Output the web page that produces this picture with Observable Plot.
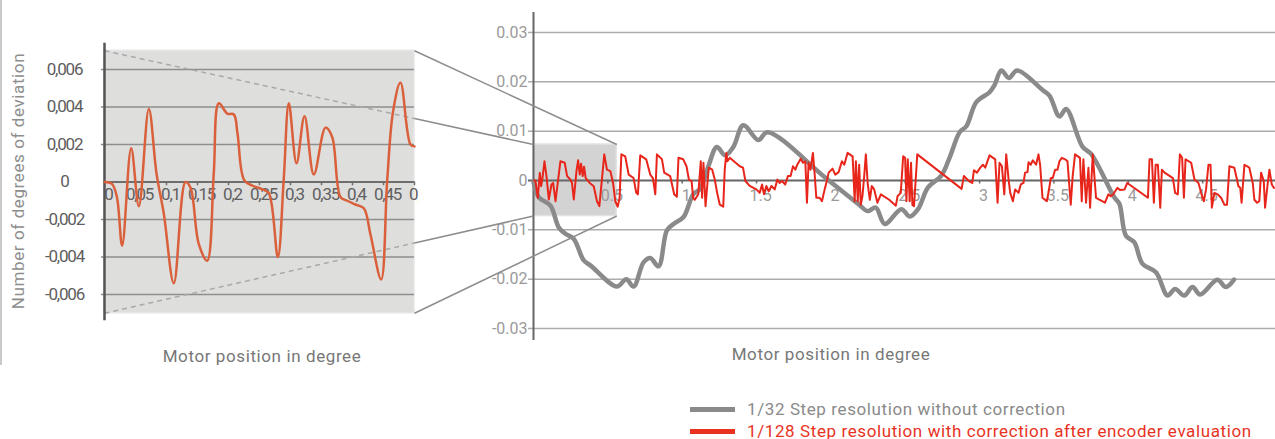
<!DOCTYPE html>
<html><head><meta charset="utf-8">
<script src="https://cdn.jsdelivr.net/npm/d3@7"></script>
<script src="https://cdn.jsdelivr.net/npm/@observablehq/plot@0.6"></script>
<style>
body{margin:0;background:#fff;}
#wrap{position:relative;width:1275px;height:439px;overflow:hidden;font-family:Roboto,sans-serif;background:#fff;}
#wrap svg{position:absolute;left:0;top:0;}
.t{position:absolute;white-space:nowrap;line-height:1;font-size:17px;letter-spacing:0.6px;}
.leg{position:absolute;height:5px;width:45px;left:690px;}
</style></head><body><div id="wrap"></div>
<script>
// ---------- data ----------
// left (zoomed) chart: smoothed deviation 0..0.5 degree
const zoomX = [0, 0.012, 0.020, 0.0285, 0.043, 0.0554, 0.0715, 0.0839, 0.0957, 0.1118, 0.1306, 0.1387, 0.152, 0.1656, 0.1763, 0.1844, 0.198, 0.2086, 0.2145, 0.2253, 0.239, 0.2554, 0.2651, 0.2796, 0.289, 0.2973, 0.3097, 0.3226, 0.3376, 0.3565, 0.3672, 0.3806, 0.3914, 0.4048, 0.4183, 0.429, 0.4462, 0.456, 0.4656, 0.4774, 0.4935, 0.5];
const zoomY = [0, -0.0001, -0.0008, -0.0034, 0.0018, -0.0013, 0.0039, 0.00045, -0.0017, -0.0054, 0.0, -0.0003, -0.0033, -0.0042, 0.0005, 0.0042, 0.00365, 0.0036, 0.0026, 0.0001, -0.0002, -0.0004, -0.0006, -0.004, 0.0001, 0.0042, 0.001, 0.0035, 0.0004, 0.0029, 0.0024, -0.0008, -0.001, -0.0012, -0.0014, -0.0028, -0.0052, 0.0001, 0.0038, 0.0053, 0.002, 0.0019];

// right chart: 1/32 step without correction
const grayX = [0, 0.036, 0.114, 0.17, 0.215, 0.27, 0.338, 0.383, 0.561, 0.624, 0.673, 0.74, 0.785, 0.841, 0.897, 0.942, 1.009, 1.076, 1.121, 1.177, 1.233, 1.289, 1.344, 1.411, 1.512, 1.573, 1.966, 2.19, 2.246, 2.302, 2.362, 2.474, 2.53, 2.586, 2.653, 2.743, 2.799, 2.866, 2.911, 2.978, 3.067, 3.1, 3.146, 3.197, 3.253, 3.425, 3.47, 3.537, 3.582, 3.693, 3.75, 3.906, 3.94, 3.984, 4.04, 4.096, 4.186, 4.264, 4.315, 4.376, 4.432, 4.483, 4.599, 4.656, 4.711];
const grayY = [-0.0003, -0.0034, -0.0051, -0.0095, -0.0108, -0.0118, -0.0162, -0.0172, -0.0215, -0.02, -0.0215, -0.0166, -0.0157, -0.0174, -0.0101, -0.0088, -0.0074, -0.0027, -0.0017, 0.003, 0.0068, 0.0051, 0.0068, 0.0112, 0.0082, 0.0098, 0.0005, -0.0049, -0.0062, -0.0055, -0.0088, -0.0058, -0.0073, -0.0058, -0.0014, 0.001, 0.0047, 0.0098, 0.011, 0.0159, 0.0179, 0.0193, 0.0223, 0.0208, 0.0223, 0.0183, 0.0172, 0.013, 0.0145, 0.0068, 0.0054, -0.0034, -0.0047, -0.0112, -0.0125, -0.0169, -0.0186, -0.0233, -0.022, -0.0233, -0.0216, -0.0231, -0.0201, -0.0216, -0.0201];

// right chart: 1/128 step with correction after encoder evaluation  [x, y]
const redSeries = [
[0.004,0],[0.013,0],[0.029,-0.0035],[0.0425,0.00155],[0.0515,-0.00115],[0.0604,0.0005],[0.0738,0.0039],[0.0872,0.0009],[0.103,-0.00385],[0.121,-0.0008],[0.132,-0.0005],[0.148,-0.0042],[0.163,-0.0005],[0.181,0.0039],[0.210,0.0036],[0.226,0.0009],[0.248,0.0002],[0.259,-0.0005],[0.271,-0.00385],[0.289,0.0019],[0.300,0.0041],[0.311,0.0012],[0.320,0.0034],[0.331,0.0009],[0.340,0.0028],[0.351,0.0005],[0.378,-0.0005],[0.405,-0.00115],[0.427,-0.0042],[0.443,-0.0052],[0.461,0.0005],[0.476,0.0053],[0.494,0.0022],[0.517,0.0019],[0.535,-0.0005],[0.550,-0.0042],[0.566,-0.0053],[0.579,-0.0035],[0.591,0.0053],[0.617,0.0049],[0.640,0.0012],[0.673,0.0005],[0.691,-0.0025],[0.702,-0.0028],[0.718,0.0051],[0.758,0.0043],[0.785,0.0012],[0.803,0.0005],[0.819,-0.0028],[0.830,0.0053],[0.864,0.0043],[0.879,0.0016],[0.919,0.0009],[0.946,-0.0028],[0.964,-0.0033],[0.975,0.0046],
[1.007,0.0043],[1.029,0.0029],[1.045,0.0002],[1.063,-0.0001],[1.074,-0.0035],[1.085,-0.0039],[1.108,-0.0028],[1.125,0.0039],[1.134,-0.0035],[1.143,0.0036],[1.157,-0.0052],[1.170,-0.0005],[1.179,0.0026],[1.202,0.0022],[1.219,0.0002],[1.237,-0.0028],[1.253,-0.0049],[1.276,-0.0053],[1.286,0.0022],[1.297,0.0056],[1.304,0.0039],[1.320,0.0046],[1.387,0.0029],[1.409,0.0026],[1.425,-0.0001],[1.454,-0.0011],[1.499,-0.0018],[1.521,-0.0025],[1.537,-0.0008],[1.550,-0.0028],[1.566,-0.0011],[1.582,-0.0022],[1.600,-0.0011],[1.622,-0.0018],[1.640,0.0002],[1.655,-0.0005],[1.671,-0.0001],[1.693,-0.0008],[1.711,0.0009],[1.729,0.0009],[1.745,0.0029],[1.761,0.0022],[1.774,0.0032],[1.797,0.0044],[1.812,0.0036],[1.828,0.0039],[1.839,-0.0045],[1.850,0.0036],[1.863,0.0022],[1.879,0.0056],[1.890,0.0016],[1.902,-0.0035],[1.924,-0.0035],[1.940,-0.0042],[1.958,-0.0018],[1.975,0.0002],[1.985,0.0016],
[2.011,0.0024],[2.029,0.0012],[2.052,0.0017],[2.074,0.0039],[2.090,0.0032],[2.112,0.0056],[2.146,0.0049],[2.160,-0.0042],[2.168,0.0039],[2.181,-0.0042],[2.190,0.0032],[2.201,-0.0049],[2.212,-0.0032],[2.224,0.0009],[2.235,0.0053],[2.248,-0.0008],[2.262,-0.0039],[2.275,-0.0011],[2.291,-0.0018],[2.313,-0.0045],[2.336,-0.0028],[2.392,-0.0039],[2.437,-0.0051],[2.448,-0.0032],[2.470,-0.0025],[2.486,0.0049],[2.499,0.0046],[2.508,-0.0042],[2.517,0.0043],[2.530,-0.0042],[2.539,0.0036],[2.548,-0.0049],[2.559,-0.0052],[2.581,0.0053],[2.879,-0.0017],[2.894,0.0009],[2.928,-0.0001],[2.951,-0.0005],[2.962,0.0021],[2.982,0.0016],
[3.005,0.0026],[3.022,0.0032],[3.038,0.0026],[3.067,0.0051],[3.105,0.0043],[3.121,-0.0045],[3.134,0.0036],[3.150,0.0029],[3.166,-0.0028],[3.179,0.0053],[3.195,0.0002],[3.206,-0.0025],[3.224,-0.0042],[3.239,-0.0018],[3.262,-0.0025],[3.277,-0.0008],[3.295,-0.0005],[3.306,0.0016],[3.322,0.0017],[3.329,0.0037],[3.344,0.0032],[3.358,0.0041],[3.380,0.0032],[3.396,0.0053],[3.407,0.0032],[3.423,-0.0035],[3.452,-0.0042],[3.463,-0.0025],[3.479,0.0005],[3.492,0.0005],[3.508,0.0022],[3.524,0.0022],[3.537,0.0039],[3.553,0.0046],[3.575,0.0043],[3.591,0.0039],[3.613,-0.0049],[3.626,0.0009],[3.642,0.0053],[3.675,0.0046],[3.687,-0.0042],[3.698,0.0043],[3.716,-0.0045],[3.732,0.0026],[3.743,-0.0055],[3.761,0.0053],[3.783,-0.0035],[3.843,-0.0045],[3.866,-0.0028],[3.882,-0.0032],[3.899,-0.0028],[3.926,-0.0015],[3.944,-0.0019],[3.975,-0.0018],[3.993,-0.0005],
[4.132,-0.0035],[4.143,0.0043],[4.159,0.0043],[4.172,-0.0045],[4.184,0.0032],[4.199,0.0032],[4.215,-0.0055],[4.226,0.0022],[4.244,0.0016],[4.300,0.0005],[4.315,-0.0025],[4.333,-0.0028],[4.347,0.0053],[4.362,0.0046],[4.374,-0.0035],[4.385,0.0043],[4.423,0.0036],[4.445,0.0002],[4.472,-0.0005],[4.490,-0.0025],[4.508,-0.0042],[4.523,-0.0018],[4.539,0.0032],[4.553,0.0032],[4.562,-0.0055],[4.579,-0.0025],[4.602,-0.0028],[4.624,-0.0035],[4.646,-0.0049],[4.664,-0.0049],[4.680,0.0029],[4.713,0.0026],[4.731,0.0002],[4.740,-0.0011],[4.753,-0.0015],[4.762,-0.0045],[4.781,0.0032],[4.814,0.0026],[4.837,-0.0005],[4.848,-0.0039],[4.866,-0.0045],[4.881,-0.0042],[4.893,0.0016],[4.911,-0.0001],[4.920,-0.0055],[4.938,-0.0005],[4.949,0.0022],[4.965,-0.0008],[4.980,-0.0015]
];

// zoomed region marked on the right chart
const zoomRegionX = [0, 0.56];
const zoomRegionY = [-0.0072, 0.0073];

// ticks
const leftYTicks = [-0.006, -0.004, -0.002, 0, 0.002, 0.004, 0.006];
const leftYTickLabels = ["-0,006", "-0,004", "-0,002", "0", "0,002", "0,004", "0,006"];
const leftXTicks = [0, 0.05, 0.1, 0.15, 0.2, 0.25, 0.3, 0.35, 0.4, 0.45, 0.5];
const leftXTickLabels = ["0", "0,05", "0,1", "0,15", "0,2", "0,25", "0,3", "0,35", "0,4", "0,45", "0,5"];
const rightYTicks = [-0.03, -0.02, -0.01, 0, 0.01, 0.02, 0.03];
const rightYTickLabels = ["-0.03", "-0.02", "-0.01", "0", "0.01", "0.02", "0.03"];
const rightXTicks = [0.5, 1, 1.5, 2, 2.5, 3, 3.5, 4, 4.5];
const rightXTickLabels = ["0.5", "1", "1.5", "2", "2.5", "3", "3.5", "4", "4.5"];

const yTitle = "Number of degrees of deviation";
const xTitle = "Motor position in degree";
const legendLabels = ["1/32 Step resolution without correction", "1/128 Step resolution with correction after encoder evaluation"];

// ---------- build ----------
const zoomData = zoomX.map((x, i) => ({x, y: zoomY[i]}));
const grayData = grayX.map((x, i) => ({x, y: grayY[i]}));
const redData = redSeries.map(([x, y]) => ({x, y}));
const lyAxis = leftYTicks.map((v, i) => ({v, label: leftYTickLabels[i]}));
const lxAxis = leftXTicks.map((v, i) => ({v, label: leftXTickLabels[i]}));
const ryAxis = rightYTicks.map((v, i) => ({v, label: rightYTickLabels[i]}));
const rxAxis = rightXTicks.map((v, i) => ({v, label: rightXTickLabels[i]}));

const leftXOpts = {domain: [0, 0.5], range: [104, 414]};
const leftYOpts = {domain: [-0.007, 0.007], range: [312.75, 50.25]};
const rightXOpts = {domain: [0, 4.99], range: [533, 1275]};
const rightYOpts = {domain: [-0.03243, 0.03406], range: [340, 12]};

const xL = Plot.scale({x: leftXOpts}), yL = Plot.scale({y: leftYOpts});
const xR = Plot.scale({x: rightXOpts}), yR = Plot.scale({y: rightYOpts});

// connector geometry, from the scales
const Ltop = yL.apply(leftYOpts.domain[1]), Lbot = yL.apply(leftYOpts.domain[0]);
const Lx0 = xL.apply(leftXOpts.domain[0]), Lx1 = xL.apply(leftXOpts.domain[1]);
const Rx0 = xR.apply(zoomRegionX[0]), Rx1 = xR.apply(zoomRegionX[1]);
const Rtop = yR.apply(zoomRegionY[1]), Rbot = yR.apply(zoomRegionY[0]);
function cross(ay, by) { const t = (Lx1 - Lx0) / (Rx0 - Lx0); return ay + t * (by - ay); }
const pTop = cross(Ltop, Rtop), pBot = cross(Lbot, Rbot);
const connectors = [
  {x1: Lx1, y1: Ltop, x2: Rx1, y2: Rtop},
  {x1: Lx1, y1: Lbot, x2: Rx1, y2: Rbot},
  {x1: Lx1, y1: pTop, x2: Rx0, y2: Rtop},
  {x1: Lx1, y1: pBot, x2: Rx0, y2: Rbot}
];
const dashed = [
  {x1: leftXOpts.domain[0], y1: leftYOpts.domain[1], x2: leftXOpts.domain[1], y2: yL.invert(pTop)},
  {x1: leftXOpts.domain[0], y1: leftYOpts.domain[0], x2: leftXOpts.domain[1], y2: yL.invert(pBot)}
];

const right = Plot.plot({
  width: 1275, height: 345,
  x: {...rightXOpts, axis: null}, y: {...rightYOpts, axis: null},
  style: {fontFamily: "Roboto, sans-serif", fontSize: "16px", background: "transparent", overflow: "visible"},
  marks: [
    Plot.ruleY(rightYTicks.filter(d => d !== 0), {x1: -0.034, x2: 4.99, stroke: "#acacac", strokeWidth: 1.5}),
    Plot.rect([0], {x1: zoomRegionX[0], x2: zoomRegionX[1], y1: zoomRegionY[0], y2: zoomRegionY[1], fill: "#d3d3d3", stroke: "#e3e3e3", strokeWidth: 1.5}),
    Plot.ruleY([0], {x1: -0.034, x2: 4.99, stroke: "#666", strokeWidth: 2}),
    Plot.ruleX(rightXTicks, {y1: 0, y2: -0.0007, stroke: "#666", strokeWidth: 1.5}),
    Plot.text(rxAxis, {x: "v", y: 0, text: "label", dy: 15, dx: 4, fill: "#9a9a9a"}),
    Plot.text(ryAxis, {x: 0, y: "v", text: "label", dx: -6, textAnchor: "end", fill: "#9a9a9a"}),
    Plot.ruleX([0], {y1: rightYOpts.domain[0], y2: rightYOpts.domain[1], stroke: "#666", strokeWidth: 2}),
    Plot.line(grayData, {x: "x", y: "y", stroke: "#8a8a8a", strokeWidth: 4.5, curve: "catmull-rom", strokeLinejoin: "round", strokeLinecap: "round"}),
    Plot.line(redData, {x: "x", y: "y", stroke: "#e8251a", strokeWidth: 2, strokeLinejoin: "round"})
  ]
});

const left = Plot.plot({
  width: 418, height: 340,
  x: {...leftXOpts, axis: null}, y: {...leftYOpts, axis: null},
  style: {fontFamily: "Roboto, sans-serif", fontSize: "17px", letterSpacing: "-1.2px", background: "transparent", overflow: "hidden"},
  marks: [
    Plot.rect([0], {x1: leftXOpts.domain[0], x2: leftXOpts.domain[1], y1: leftYOpts.domain[0], y2: leftYOpts.domain[1], fill: "#dededd", stroke: "#e6e6e6", strokeWidth: 1.5}),
    Plot.ruleY(leftYTicks.filter(d => d !== 0), {x1: -0.005, x2: 0.5, stroke: "#8e8e8e", strokeWidth: 1.5}),
    Plot.link(dashed, {x1: "x1", y1: "y1", x2: "x2", y2: "y2", stroke: "#a9a9a9", strokeWidth: 1.5, strokeDasharray: "5,4"}),
    Plot.ruleY([0], {x1: 0, x2: 0.5, stroke: "#6e6e6e", strokeWidth: 2}),
    Plot.ruleX(leftXTicks, {y1: 0, y2: -0.0002, stroke: "#6e6e6e", strokeWidth: 1.5}),
    Plot.text(lxAxis, {x: "v", y: 0, text: "label", dy: 13, dx: 4, fill: "#606060"}),
    Plot.text(lyAxis, {x: 0, y: "v", text: "label", dx: -40, fill: "#5e5e5e"}),
    Plot.ruleX([0], {y1: 0.0074, y2: -0.0074, stroke: "#555", strokeWidth: 2.5}),
    Plot.line(zoomData, {x: "x", y: "y", stroke: "#d9603b", strokeWidth: 2.5, curve: "catmull-rom"})
  ]
});

const overlay = Plot.plot({
  width: 1275, height: 439,
  x: {type: "identity", axis: null}, y: {type: "identity", axis: null},
  style: {background: "transparent", pointerEvents: "none"},
  marks: [
    Plot.link(connectors, {x1: "x1", y1: "y1", x2: "x2", y2: "y2", stroke: "#8d8d8d", strokeWidth: 1.5})
  ]
});

const wrap = document.getElementById("wrap");
const border = document.createElement("div");
border.style.cssText = "position:absolute;left:0;top:0;width:2px;height:365px;background:#c9c9c9;";
wrap.appendChild(border);
wrap.appendChild(right);
wrap.appendChild(left);
wrap.appendChild(overlay);

function addText(txt, css) {
  const d = document.createElement("div");
  d.className = "t"; d.textContent = txt; d.style.cssText += css;
  wrap.appendChild(d); return d;
}
addText(yTitle, "left:18px;top:181px;transform:translate(-50%,-50%) rotate(-90deg);color:#8e8e8e;");
addText(xTitle, "left:262px;top:356px;transform:translate(-50%,-50%);color:#777;");
addText(xTitle, "left:831px;top:354px;transform:translate(-50%,-50%);color:#777;");
const lg1 = document.createElement("div"); lg1.className = "leg"; lg1.style.cssText += "top:407px;background:#8a8a8a;"; wrap.appendChild(lg1);
const lg2 = document.createElement("div"); lg2.className = "leg"; lg2.style.cssText += "top:429px;background:#e8321e;"; wrap.appendChild(lg2);
addText(legendLabels[0], "left:747px;top:409px;transform:translateY(-50%);color:#8a8a8a;");
addText(legendLabels[1], "left:747px;top:431px;transform:translateY(-50%);color:#e8321e;");
</script></body></html>
